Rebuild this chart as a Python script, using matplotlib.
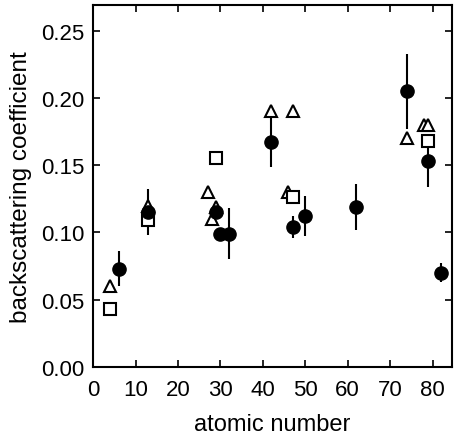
import matplotlib
matplotlib.use('Agg')
from matplotlib import pyplot as plt

plt.rcParams['font.family'] = ['Liberation Sans', 'DejaVu Sans']

# filled circles with error bars
circ_z = [6, 13, 29, 30, 32, 42, 47, 50, 62, 74, 79, 82]
circ_y = [0.073, 0.115, 0.115, 0.099, 0.099, 0.167, 0.104, 0.112, 0.119, 0.205, 0.153, 0.070]
circ_err = [0.013, 0.017, 0.0, 0.0, 0.019, 0.018, 0.008, 0.015, 0.017, 0.028, 0.019, 0.007]

# open triangles
tri_z = [4, 13, 27, 28, 29, 42, 46, 47, 74, 78, 79]
tri_y = [0.060, 0.120, 0.130, 0.110, 0.119, 0.190, 0.130, 0.190, 0.170, 0.180, 0.180]

# open squares
sq_z = [4, 13, 29, 47, 79]
sq_y = [0.043, 0.109, 0.155, 0.126, 0.168]

fig = plt.figure(figsize=(4.54, 4.39), dpi=100)
ax = fig.add_axes([0.205, 0.162, 0.79, 0.824])

ax.errorbar(circ_z, circ_y, yerr=circ_err, fmt='none', ecolor='black', elinewidth=1.5, capsize=0, zorder=2)
ax.plot(tri_z, tri_y, '^', ms=9, mfc='white', mec='black', mew=1.5, zorder=3)
ax.plot(sq_z, sq_y, 's', ms=8, mfc='white', mec='black', mew=1.5, zorder=3)
ax.plot(circ_z, circ_y, 'o', ms=9.5, mfc='black', mec='black', zorder=4)

ax.set_xlim(0, 84.5)
ax.set_ylim(0, 0.269)
ax.set_xticks(range(0, 81, 10))
ax.set_yticks([0.0, 0.05, 0.10, 0.15, 0.20, 0.25])
ax.set_yticklabels(['0.00', '0.05', '0.10', '0.15', '0.20', '0.25'])
ax.tick_params(direction='in', top=True, right=True, labelsize=16, length=5, width=1.2, pad=6)
ax.tick_params(axis='x', pad=9)
for s in ax.spines.values():
    s.set_linewidth(1.5)

ax.set_xlabel('atomic number', fontsize=17, labelpad=9)
ax.set_ylabel('backscattering coefficient', fontsize=17.5, labelpad=7)

fig.savefig('out.png', dpi=100)
